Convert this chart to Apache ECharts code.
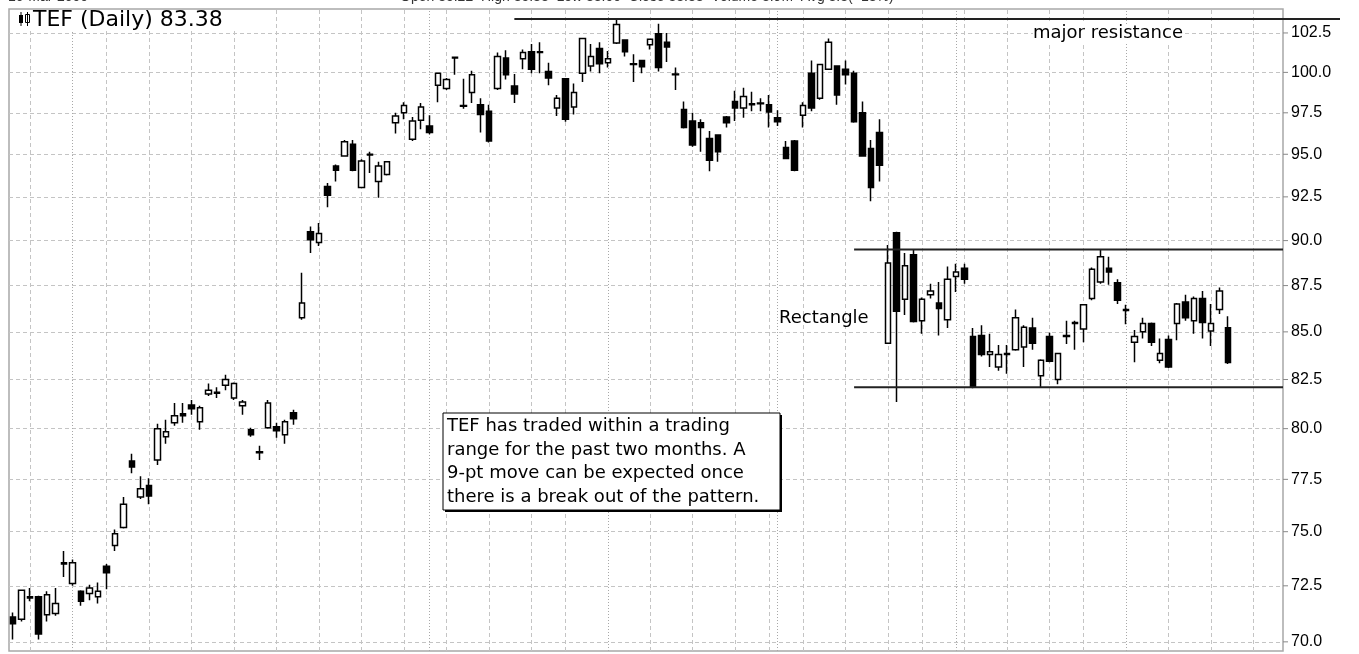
<!DOCTYPE html>
<html>
<head>
<meta charset="utf-8">
<title>TEF (Daily)</title>
<script src="https://cdn.jsdelivr.net/npm/echarts@6/dist/echarts.min.js"></script>
<style>
    html, body { margin: 0; padding: 0; background: #fff; }
    #chart { width: 1359px; height: 654px; }
</style>
</head>
<body>
<div id="chart"></div>
<script>
"use strict";

// daily candles, oldest first
var opens = [
    71.1, 71.0, 72.0, 72.0, 71.2, 71.25, 73.5, 72.6, 72.25, 72.15,
    72.0, 73.4, 74.35, 75.2, 78.4, 76.65, 77.2, 78.45, 79.6, 80.3,
    80.75, 81.2, 80.35, 81.75, 81.8, 82.2, 81.55, 81.15, 79.95, 78.85,
    80.05, 80.1, 79.7, 80.8, 85.75, 90.5, 89.9, 93.1, 94.3, 94.9,
    95.6, 93.05, 95.0, 93.4, 93.8, 96.9, 97.5, 95.9, 97.05, 96.7,
    99.2, 99.0, 100.9, 97.95, 98.75, 98.0, 97.6, 99.0, 100.9, 99.15,
    100.85, 101.3, 101.25, 100.05, 97.8, 99.6, 97.85, 99.95, 100.4, 101.5,
    100.6, 101.85, 102.05, 100.5, 100.75, 101.75, 102.45, 101.9, 99.85, 97.7,
    97.0, 96.9, 95.95, 96.15, 97.25, 98.2, 97.8, 98.0, 98.1, 98.0,
    97.2, 95.4, 95.8, 97.35, 99.95, 98.4, 100.2, 100.4, 100.2, 99.95,
    97.5, 95.35, 96.3, 84.4, 90.45, 86.75, 89.2, 85.6, 87.0, 86.55,
    85.65, 88.0, 88.45, 84.75, 84.8, 83.8, 83.15, 83.8, 84.05, 84.2,
    85.2, 82.7, 84.75, 82.5, 84.8, 85.45, 85.15, 86.8, 87.7, 88.45,
    87.65, 86.15, 84.45, 85.0, 85.45, 83.5, 84.6, 85.45, 86.6, 85.6,
    86.8, 85.05, 86.2, 85.22
];
var closes = [
    70.8, 72.3, 71.95, 70.35, 72.1, 71.7, 73.55, 73.55, 71.8, 72.4,
    72.25, 73.1, 74.9, 76.3, 78.1, 77.05, 76.7, 80.0, 79.85, 80.65,
    80.65, 81.0, 81.05, 81.95, 81.85, 82.5, 82.3, 81.35, 79.7, 78.8,
    81.3, 79.9, 80.35, 80.5, 86.55, 90.05, 90.4, 92.6, 94.05, 95.75,
    94.05, 94.6, 94.95, 94.3, 94.55, 97.3, 97.95, 97.0, 97.85, 96.3,
    99.95, 99.55, 100.95, 97.9, 99.85, 97.4, 95.8, 101.0, 99.85, 98.65,
    101.25, 100.2, 101.3, 99.65, 98.4, 97.1, 98.75, 102.15, 101.0, 100.55,
    100.85, 103.05, 101.3, 100.55, 100.35, 102.1, 100.3, 101.6, 99.9, 96.6,
    95.55, 96.6, 94.65, 95.15, 96.9, 97.8, 98.5, 98.05, 98.05, 97.55,
    96.95, 94.75, 94.05, 97.95, 97.8, 100.5, 101.9, 98.6, 99.85, 96.95,
    94.9, 93.05, 94.35, 88.75, 86.1, 88.6, 85.55, 86.75, 87.2, 86.25,
    87.85, 88.25, 87.85, 82.15, 83.8, 83.95, 83.8, 83.85, 85.75, 85.25,
    84.4, 83.5, 83.45, 83.85, 84.75, 85.5, 86.45, 88.4, 89.1, 88.25,
    86.7, 86.2, 84.75, 85.45, 84.45, 83.85, 83.15, 86.5, 85.75, 86.8,
    85.5, 85.45, 87.2, 83.38
];
var lows = [
    70.1, 70.9, 71.8, 70.1, 70.9, 71.15, 72.9, 72.5, 71.6, 71.85,
    71.7, 72.35, 74.1, 75.15, 77.8, 76.55, 76.3, 78.2, 79.25, 80.15,
    80.3, 80.7, 79.95, 81.65, 81.55, 81.95, 81.45, 80.7, 79.6, 78.45,
    80.0, 79.55, 79.25, 80.2, 85.65, 89.3, 89.7, 91.9, 93.4, 94.85,
    94.0, 93.0, 93.9, 92.45, 93.75, 96.25, 97.1, 95.8, 96.5, 96.2,
    98.15, 98.9, 99.85, 97.75, 98.1, 96.3, 95.7, 98.9, 99.55, 98.1,
    100.2, 99.95, 99.95, 99.2, 97.3, 96.95, 97.4, 99.4, 100.05, 99.95,
    100.3, 101.8, 101.0, 99.4, 99.95, 101.45, 100.05, 100.65, 98.9, 96.55,
    95.45, 95.15, 94.0, 94.55, 96.6, 97.0, 97.2, 97.6, 97.6, 96.6,
    96.7, 94.7, 94.0, 96.6, 97.6, 98.3, 100.15, 98.0, 99.25, 96.9,
    94.85, 92.25, 93.4, 84.35, 81.35, 85.9, 85.5, 84.9, 86.8, 84.8,
    85.2, 87.15, 87.6, 82.05, 83.7, 83.15, 82.95, 82.8, 84.0, 83.15,
    84.05, 82.1, 83.4, 82.25, 84.35, 84.05, 84.45, 86.7, 87.6, 87.55,
    86.5, 85.4, 83.4, 84.65, 84.25, 83.35, 83.1, 84.55, 85.6, 84.9,
    84.65, 84.25, 85.95, 83.3
];
var highs = [
    71.3, 72.3, 72.4, 72.05, 72.25, 72.4, 74.1, 73.7, 72.3, 72.55,
    72.65, 73.5, 75.1, 76.65, 78.75, 77.65, 77.55, 80.25, 80.45, 81.3,
    81.3, 81.45, 81.15, 82.3, 82.1, 82.75, 82.35, 81.45, 80.05, 79.15,
    81.45, 80.3, 80.45, 80.95, 88.2, 90.8, 91.0, 93.3, 94.4, 95.85,
    95.85, 94.7, 95.15, 94.55, 94.6, 97.5, 98.15, 97.25, 98.1, 97.35,
    100.0, 99.65, 101.0, 99.6, 100.1, 98.4, 98.0, 101.25, 101.4, 99.9,
    101.45, 101.8, 101.9, 100.6, 98.6, 99.65, 99.3, 102.2, 101.8, 101.9,
    101.35, 103.4, 102.1, 101.15, 100.8, 102.15, 103.1, 102.5, 100.3, 98.2,
    97.5, 97.1, 96.4, 96.2, 97.3, 98.85, 99.05, 98.8, 98.4, 98.6,
    97.65, 95.8, 95.85, 98.15, 100.75, 100.55, 102.15, 100.45, 100.75, 100.1,
    98.2, 95.85, 97.1, 89.75, 90.5, 89.3, 89.5, 86.85, 87.6, 87.7,
    88.55, 88.7, 88.7, 85.2, 85.35, 84.9, 84.3, 84.3, 86.2, 85.35,
    85.75, 83.55, 84.95, 83.9, 85.6, 85.6, 86.5, 88.5, 89.5, 89.1,
    87.85, 86.45, 85.1, 85.75, 85.5, 84.65, 84.8, 86.55, 87.0, 86.9,
    87.2, 86.5, 87.4, 85.83
];

// price scale labels and the dashed time grid (slot indexes)
var yTicks = [70, 72.5, 75, 77.5, 80, 82.5, 85, 87.5, 90, 92.5, 95, 97.5, 100, 102.5];
var weekLines = [2, 11, 16, 21, 26, 31, 36, 41, 46, 51, 56, 61, 65, 75, 80, 85, 89, 93, 98, 103, 107, 112, 117, 122, 126, 136, 141, 146];
var monthLines = [7, 49, 70, 90, 111, 131];

// drawn lines: [start slot, end slot, price]
var resistanceLine = [59, 149.5, 103.4];
var rectTopLine = [99, 149.5, 89.5];
var rectBottomLine = [99, 149.5, 82.1];

var slotCount = 150;
var days = [];
for (var i = 0; i < slotCount; i++) {
    days.push('d' + (i + 1));
}

var candles = opens.map(function (o, k) {
    return [o, closes[k], lows[k], highs[k]];
});

var dashStyle = { color: '#c4c4c4', type: [4, 3], width: 1 };
var dotStyle = { color: '#a8a8a8', type: [1, 2], width: 1 };

var gridMarks = [];
yTicks.forEach(function (v) {
    gridMarks.push({
        yAxis: v,
        lineStyle: dashStyle,
        label: {
            show: true,
            position: 'end',
            distance: 8,
            formatter: v.toFixed(1),
            color: '#000',
            fontSize: 16,
            fontFamily: 'Liberation Sans'
        }
    });
});
weekLines.forEach(function (k) {
    gridMarks.push({ xAxis: k, lineStyle: dashStyle });
});
monthLines.forEach(function (k) {
    gridMarks.push({ xAxis: k, lineStyle: dotStyle });
});

function drawnLine(s) {
    return {
        type: 'line',
        xAxisIndex: 1,
        data: [[s[0], s[2]], [s[1], s[2]]],
        z: 5,
        silent: true,
        symbol: 'none',
        lineStyle: { color: '#222', width: 2 }
    };
}

var dom = document.getElementById('chart');
var myChart = echarts.init(dom, null, { renderer: 'canvas' });

var textFont = '18px "DejaVu Sans"';

var graphics = [
    // header row, cut off by the top edge
    { type: 'text', x: 8, y: -10, style: { text: '10-Mar-2000', font: '14px "Liberation Sans"', fill: '#333' } },
    { type: 'text', x: 400, y: -10, style: { text: 'Open 85.22  High 85.83  Low 83.00  Close 83.38  Volume 3.9M  Avg 3.3(+18%)', font: '14px "Liberation Sans"', fill: '#333' } },
    // title box
    { type: 'rect', shape: { x: 11, y: 10, width: 224, height: 20 }, style: { fill: '#fff' }, z: 10 },
    { type: 'rect', shape: { x: 19, y: 15, width: 4, height: 8 }, style: { fill: '#000' }, z: 11 },
    { type: 'line', shape: { x1: 21, y1: 12, x2: 21, y2: 26 }, style: { stroke: '#000', lineWidth: 1 }, z: 11 },
    { type: 'rect', shape: { x: 25.5, y: 14.5, width: 4, height: 8 }, style: { fill: '#fff', stroke: '#000', lineWidth: 1 }, z: 11 },
    { type: 'line', shape: { x1: 27.5, y1: 12, x2: 27.5, y2: 26 }, style: { stroke: '#000', lineWidth: 1 }, z: 11 },
    { type: 'text', x: 33, y: 9, z: 11, style: { text: 'TEF (Daily) 83.38', font: '22px "DejaVu Sans"', fill: '#000', verticalAlign: 'top' } },
    // annotations
    { type: 'text', x: 1033, y: 33, z: 11, style: { text: 'major resistance', font: textFont, fill: '#000', verticalAlign: 'middle', backgroundColor: '#fff' } },
    { type: 'text', x: 779, y: 318, z: 11, style: { text: 'Rectangle', font: textFont, fill: '#000', verticalAlign: 'middle' } },
    { type: 'rect', z: 11, shape: { x: 445, y: 415, width: 337, height: 97 }, style: { fill: '#000' } },
    { type: 'rect', z: 12, shape: { x: 443, y: 413, width: 337, height: 97 }, style: { fill: '#fff', stroke: '#000', lineWidth: 1 } },
    {
        type: 'text',
        z: 13,
        x: 447,
        y: 415,
        style: {
            text: 'TEF has traded within a trading\nrange for the past two months. A\n9-pt move can be expected once\nthere is a break out of the pattern.',
            font: textFont,
            lineHeight: 23.5,
            fill: '#000',
            verticalAlign: 'top'
        }
    }
];

var option = {
    animation: false,
    backgroundColor: '#fff',
    grid: {
        left: 9,
        right: 76,
        top: 9,
        bottom: 3,
        show: true,
        borderColor: '#a8a8a8',
        borderWidth: 1.5
    },
    xAxis: [
        {
            type: 'category',
            data: days,
            boundaryGap: true,
            axisLine: { show: false },
            axisTick: { show: false },
            axisLabel: { show: false },
            splitLine: { show: false }
        },
        {
            // same slots as a plain number line
            type: 'value',
            min: -0.5,
            max: slotCount - 0.5,
            show: false
        }
    ],
    yAxis: {
        type: 'log',
        logBase: 10,
        min: 69.6,
        max: 104.05,
        position: 'right',
        axisLine: { show: false },
        axisTick: { show: false },
        axisLabel: { show: false },
        splitLine: { show: false }
    },
    series: [
        {
            type: 'line',
            data: [],
            silent: true,
            markLine: {
                z: 1,
                silent: true,
                symbol: ['none', 'none'],
                label: { show: false },
                data: gridMarks
            }
        },
        {
            name: 'TEF',
            type: 'candlestick',
            z: 3,
            barWidth: 6,
            data: candles,
            itemStyle: {
                color: '#fff',
                color0: '#000',
                borderColor: '#000',
                borderColor0: '#000',
                borderColorDoji: '#000',
                borderWidth: 1.5
            }
        },
        drawnLine(resistanceLine),
        drawnLine(rectTopLine),
        drawnLine(rectBottomLine)
    ],
    graphic: graphics
};

if (option && typeof option === "object") {
    myChart.setOption(option, true);
}

// pieces that sit outside the plot frame: price ticks and the tail of the resistance line
var toPx = function (slot, price) {
    return myChart.convertToPixel({ xAxisIndex: 1, yAxisIndex: 0 }, [slot, price]);
};
var edge = toPx(slotCount - 0.5, yTicks[0])[0];
yTicks.forEach(function (v) {
    var p = toPx(slotCount - 0.5, v);
    graphics.push({ type: 'line', z: 4, shape: { x1: edge, y1: p[1], x2: edge + 5, y2: p[1] }, style: { stroke: '#888', lineWidth: 1 } });
});
var resEnd = toPx(resistanceLine[1], resistanceLine[2]);
graphics.push({ type: 'line', z: 5, shape: { x1: resEnd[0], y1: resEnd[1], x2: 1340, y2: resEnd[1] }, style: { stroke: '#222', lineWidth: 2 } });
myChart.setOption({ graphic: graphics });
</script>
</body>
</html>
